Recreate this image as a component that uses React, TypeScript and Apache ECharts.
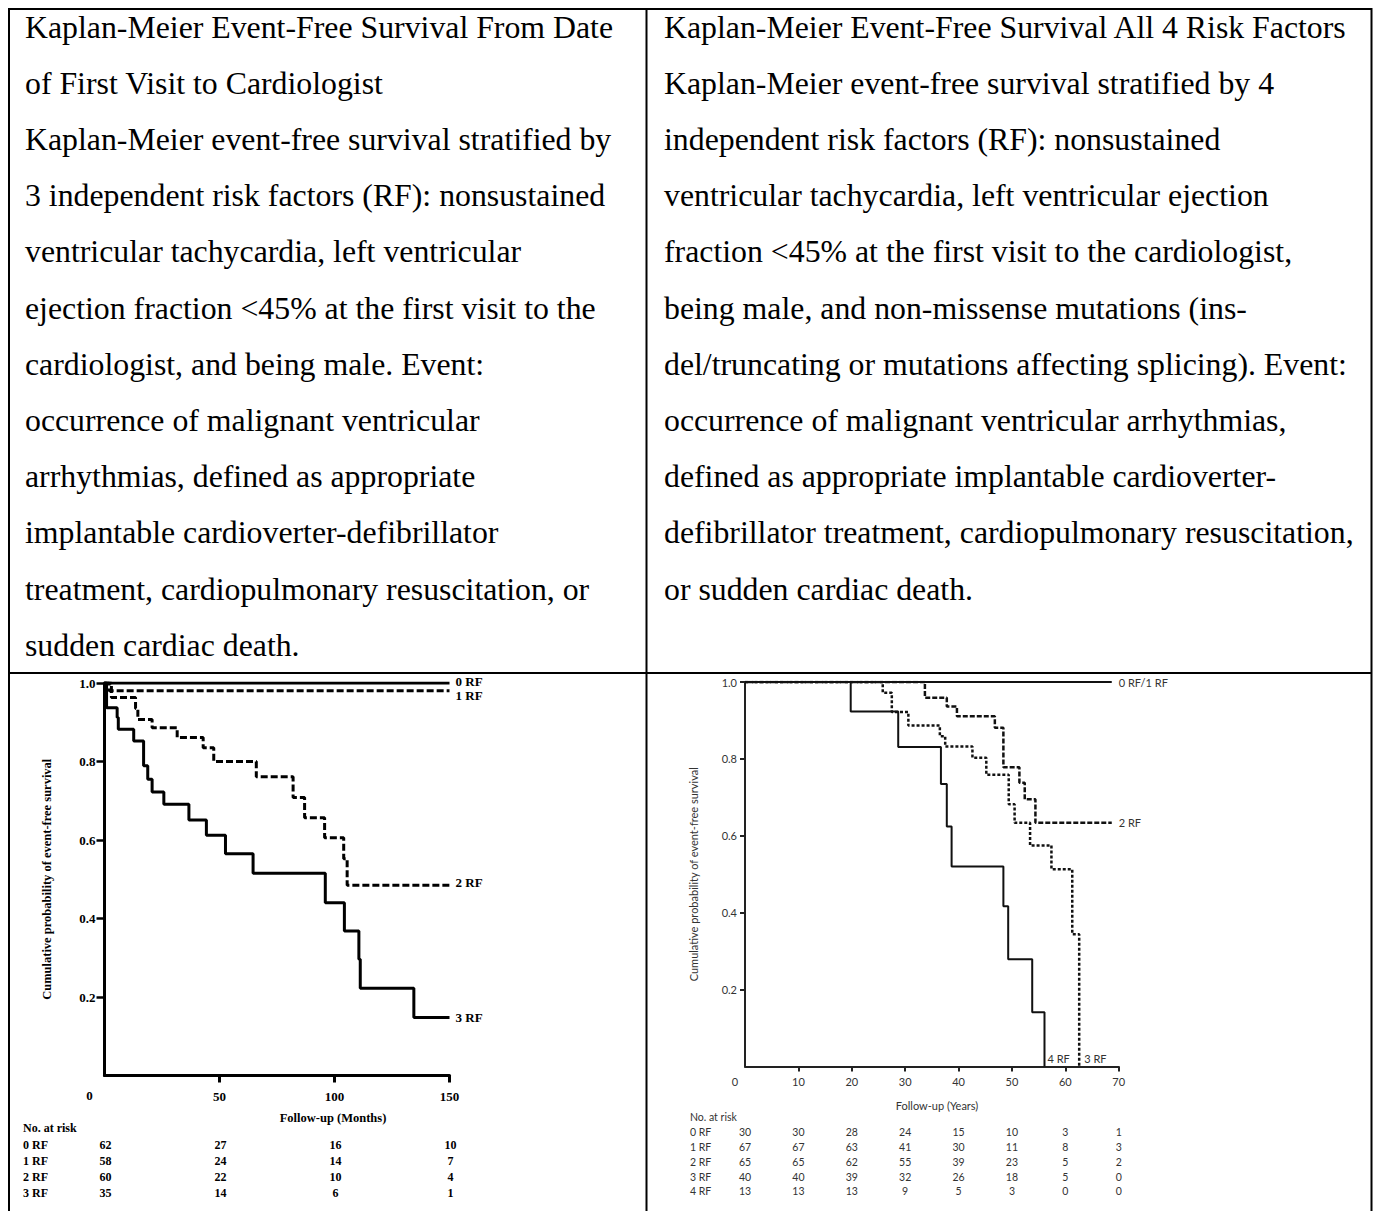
import React, { useEffect, useRef } from "react";
import * as echarts from "echarts";

// ---------- Caption text (table header cells) ----------
const leftCaption = [
  "Kaplan-Meier Event-Free Survival From Date",
  "of First Visit to Cardiologist",
  "Kaplan-Meier event-free survival stratified by",
  "3 independent risk factors (RF): nonsustained",
  "ventricular tachycardia, left ventricular",
  "ejection fraction <45% at the first visit to the",
  "cardiologist, and being male. Event:",
  "occurrence of malignant ventricular",
  "arrhythmias, defined as appropriate",
  "implantable cardioverter-defibrillator",
  "treatment, cardiopulmonary resuscitation, or",
  "sudden cardiac death.",
];
const rightCaption = [
  "Kaplan-Meier Event-Free Survival All 4 Risk Factors",
  "Kaplan-Meier event-free survival stratified by 4",
  "independent risk factors (RF): nonsustained",
  "ventricular tachycardia, left ventricular ejection",
  "fraction <45% at the first visit to the cardiologist,",
  "being male, and non-missense mutations (ins-",
  "del/truncating or mutations affecting splicing). Event:",
  "occurrence of malignant ventricular arrhythmias,",
  "defined as appropriate implantable cardioverter-",
  "defibrillator treatment, cardiopulmonary resuscitation,",
  "or sudden cardiac death.",
];

// ---------- Left chart: months ----------
const leftXTicks = [0, 50, 100, 150];
const leftT0 = [0, 150];
const leftS0 = [1, 1];
const leftT1 = [0, 2, 150];
const leftS1 = [1, 0.98, 0.98];
const leftT2 = [0, 3, 13.5, 14.5, 20.7, 31.6, 42.9, 47.5, 66, 82, 87, 95.7, 104, 105.5, 150];
const leftS2 = [1, 0.963, 0.935, 0.907, 0.886, 0.861, 0.835, 0.8, 0.761, 0.708, 0.657, 0.606, 0.552, 0.485, 0.485];
const leftT3 = [0, 0.9, 5.5, 6, 12.7, 17, 18.8, 20.7, 25.8, 36.7, 44.3, 52.6, 64.6, 96, 104.3, 110.6, 111.2, 134.5, 150];
const leftS3 = [1, 0.937, 0.912, 0.882, 0.852, 0.789, 0.755, 0.722, 0.691, 0.651, 0.612, 0.565, 0.515, 0.44, 0.368, 0.296, 0.222, 0.148, 0.148];
const leftRiskLabels = ["0 RF", "1 RF", "2 RF", "3 RF"];
const leftRisk0 = [62, 27, 16, 10];
const leftRisk1 = [58, 24, 14, 7];
const leftRisk2 = [60, 22, 10, 4];
const leftRisk3 = [35, 14, 6, 1];

// ---------- Right chart: years ----------
const rightXTicks = [0, 10, 20, 30, 40, 50, 60, 70];
const rightT01 = [0, 68.7];
const rightS01 = [1, 1];
const rightT2 = [0, 33.7, 37.8, 39.7, 46.8, 48.4, 51.4, 52.4, 54.4, 68.7];
const rightS2 = [1, 0.959, 0.936, 0.911, 0.881, 0.778, 0.738, 0.695, 0.634, 0.634];
const rightT3 = [0, 25.8, 27.5, 30.6, 36.5, 37.5, 42.6, 45.2, 49.4, 50.5, 53.4, 57.4, 61.3, 62.6];
const rightS3 = [1, 0.972, 0.922, 0.887, 0.859, 0.832, 0.803, 0.759, 0.682, 0.634, 0.575, 0.513, 0.344, 0];
const rightT4 = [0, 19.8, 28.7, 36.7, 37.8, 38.7, 48.4, 49.3, 53.8, 56.1];
const rightS4 = [1, 0.923, 0.831, 0.735, 0.624, 0.52, 0.417, 0.279, 0.141, 0];
const rightRiskLabels = ["0 RF", "1 RF", "2 RF", "3 RF", "4 RF"];
const rightRisk0 = [30, 30, 28, 24, 15, 10, 3, 1];
const rightRisk1 = [67, 67, 63, 41, 30, 11, 8, 3];
const rightRisk2 = [65, 65, 62, 55, 39, 23, 5, 2];
const rightRisk3 = [40, 40, 39, 32, 26, 18, 5, 0];
const rightRisk4 = [13, 13, 13, 9, 5, 3, 0, 0];

const SERIF = "'Liberation Serif', 'Times New Roman', serif";
const SANS = "Lato, 'Open Sans', sans-serif";

const zip = (t: number[], s: number[]) => t.map((v, i) => [v, s[i]]);

export default function App() {
  const ref = useRef<HTMLDivElement>(null);

  useEffect(() => {
    if (!ref.current) return;
    const chart = echarts.init(ref.current, null, { renderer: "svg" });

    const leftLabel = (text: string, dy: number) => ({
      show: true,
      formatter: text,
      distance: 6,
      offset: [0, dy],
      color: "#000",
      fontFamily: SERIF,
      fontWeight: "bold",
      fontSize: 13,
    });
    const rightLabel = (text: string, dx: number, dy: number) => ({
      show: true,
      formatter: text,
      distance: dx,
      offset: [0, dy],
      color: "#333",
      fontFamily: SANS,
      fontSize: 11,
    });

    const leftLine = (type: any, w = 3) => ({ color: "#000", width: w, type });
    const rightLine = (type: any, w = 2) => ({ color: "#111", width: w, type });

    const baseSeries = (name: string, data: number[][], grid: number, lineStyle: any, endLabel: any) => ({
      name,
      type: "line",
      xAxisIndex: grid,
      yAxisIndex: grid,
      data,
      step: "end",
      symbol: "none",
      lineStyle,
      endLabel,
      labelLayout: { hideOverlap: false },
      z: 3,
    });

    chart.setOption({
      animation: false,
      backgroundColor: "#fff",
      grid: [
        { left: 104.5, top: 683, width: 345, height: 392.5 },
        { left: 745, top: 682, width: 373.7, height: 384.5 },
      ],
      xAxis: [
        {
          type: "value",
          gridIndex: 0,
          min: 0,
          max: 150,
          interval: 50,
          splitLine: { show: false },
          axisLine: { lineStyle: { color: "#000", width: 3 } },
          axisTick: { length: 7, lineStyle: { color: "#000", width: 3 } },
          axisLabel: {
            showMinLabel: false,
            margin: 14,
            color: "#000",
            fontFamily: SERIF,
            fontWeight: "bold",
            fontSize: 13,
          },
        },
        {
          type: "value",
          gridIndex: 1,
          min: 0,
          max: 70,
          interval: 10,
          splitLine: { show: false },
          axisLine: { lineStyle: { color: "#222", width: 2 } },
          axisTick: { length: 5, lineStyle: { color: "#222", width: 2 } },
          axisLabel: {
            showMinLabel: false,
            margin: 9,
            color: "#333",
            fontFamily: SANS,
            fontSize: 11,
          },
        },
      ],
      yAxis: [
        {
          type: "value",
          gridIndex: 0,
          min: 0,
          max: 1,
          interval: 0.2,
          splitLine: { show: false },
          axisLine: { show: true, lineStyle: { color: "#000", width: 3 } },
          axisTick: { show: true, length: 8, lineStyle: { color: "#000", width: 2.5 } },
          axisLabel: {
            showMinLabel: false,
            margin: 9,
            formatter: (v: number) => v.toFixed(1),
            color: "#000",
            fontFamily: SERIF,
            fontWeight: "bold",
            fontSize: 13,
          },
          name: "Cumulative probability of event-free survival",
          nameLocation: "middle",
          nameRotate: 90,
          nameGap: 51,
          nameTextStyle: { color: "#000", fontFamily: SERIF, fontWeight: "bold", fontSize: 12.5 },
        },
        {
          type: "value",
          gridIndex: 1,
          min: 0,
          max: 1,
          interval: 0.2,
          splitLine: { show: false },
          axisLine: { show: true, lineStyle: { color: "#222", width: 2 } },
          axisTick: { show: true, length: 5, lineStyle: { color: "#222", width: 2 } },
          axisLabel: {
            showMinLabel: false,
            margin: 8,
            formatter: (v: number) => v.toFixed(1),
            color: "#333",
            fontFamily: SANS,
            fontSize: 11,
          },
          name: "Cumulative probability of event-free survival",
          nameLocation: "middle",
          nameRotate: 90,
          nameGap: 46,
          nameTextStyle: { color: "#333", fontFamily: SANS, fontSize: 11 },
        },
      ],
      series: [
        baseSeries("0 RF", zip(leftT0, leftS0), 0, leftLine("solid"), leftLabel("0 RF", -2)),
        baseSeries("1 RF", zip(leftT1, leftS1), 0, leftLine([7, 3]), leftLabel("1 RF", 5)),
        baseSeries("2 RF", zip(leftT2, leftS2), 0, leftLine([7, 3]), leftLabel("2 RF", -3)),
        baseSeries("3 RF", zip(leftT3, leftS3), 0, leftLine("solid"), leftLabel("3 RF", 0)),
        baseSeries("0 RF/1 RF", zip(rightT01, rightS01), 1, rightLine("solid"), rightLabel("0 RF/1 RF", 7, 0)),
        baseSeries("2 RF", zip(rightT2, rightS2), 1, rightLine([5, 2], 2.5), rightLabel("2 RF", 7, 0)),
        baseSeries("3 RF", zip(rightT3, rightS3), 1, rightLine([3, 2], 2.5), rightLabel("3 RF", 5, -8)),
        baseSeries("4 RF", zip(rightT4, rightS4), 1, rightLine("solid"), rightLabel("4 RF", 3, -8)),
      ],
    });

    // ---------- graphics: table borders, captions, risk tables ----------
    const g: any[] = [];
    const border = (x1: number, y1: number, x2: number, y2: number) =>
      g.push({ type: "line", shape: { x1, y1, x2, y2 }, style: { stroke: "#000", lineWidth: 2 }, z: 10 });
    border(9, 9, 1371.5, 9);
    border(9, 8, 9, 1211);
    border(646.5, 8, 646.5, 1211);
    border(1371.5, 8, 1371.5, 1211);
    border(8, 673, 1372, 673);

    const capFont = 31.8;
    const capBase = 38;
    const capStep = 56.2;
    const capLine = (text: string, x: number, i: number) =>
      g.push({
        type: "text",
        x,
        y: capBase + i * capStep - capFont * 0.34,
        style: { text, fontFamily: SERIF, fontSize: capFont, fill: "#000", align: "left", verticalAlign: "middle" },
      });
    leftCaption.forEach((t, i) => capLine(t, 25, i));
    rightCaption.forEach((t, i) => capLine(t, 664, i));

    const txt = (text: string, x: number, y: number, style: any) =>
      g.push({ type: "text", x, y, style: { text, verticalAlign: "middle", ...style } });

    const lStyle = { fontFamily: SERIF, fontWeight: "bold", fontSize: 12, fill: "#000" };
    const rStyle = { fontFamily: SANS, fontSize: 10.5, fill: "#333" };

    // "0" origin labels (offset from the skewed origin)
    const lo = chart.convertToPixel({ gridIndex: 0 }, [0, 0]) as number[];
    txt("0", lo[0] - 15, 1095, { ...lStyle, fontSize: 13, align: "center" });
    const ro = chart.convertToPixel({ gridIndex: 1 }, [0, 0]) as number[];
    txt("0", ro[0] - 10, 1081.5, { ...rStyle, fontSize: 11, align: "center" });

    // axis titles
    txt("Follow-up (Months)", 333, 1118, { ...lStyle, fontSize: 12.5, align: "center" });
    txt("Follow-up (Years)", 937, 1105, { ...rStyle, fontSize: 11, align: "center" });

    // left risk table
    const leftRows = [leftRisk0, leftRisk1, leftRisk2, leftRisk3];
    const leftRowY = [1145, 1161, 1177.3, 1193.3];
    txt("No. at risk", 23, 1128.3, { ...lStyle, align: "left" });
    leftRows.forEach((row, r) => {
      txt(leftRiskLabels[r], 23, leftRowY[r], { ...lStyle, align: "left" });
      row.forEach((v, c) => {
        const p = chart.convertToPixel({ gridIndex: 0 }, [leftXTicks[c], 0]) as number[];
        txt(String(v), p[0] + 1, leftRowY[r], { ...lStyle, align: "center" });
      });
    });

    // right risk table
    const rightRows = [rightRisk0, rightRisk1, rightRisk2, rightRisk3, rightRisk4];
    const rightRowY = [1131.7, 1146.7, 1161.7, 1176.7, 1191];
    txt("No. at risk", 690, 1116.7, { ...rStyle, align: "left" });
    rightRows.forEach((row, r) => {
      txt(rightRiskLabels[r], 690, rightRowY[r], { ...rStyle, align: "left" });
      row.forEach((v, c) => {
        const p = chart.convertToPixel({ gridIndex: 1 }, [rightXTicks[c], 0]) as number[];
        txt(String(v), p[0], rightRowY[r], { ...rStyle, align: "center" });
      });
    });

    chart.setOption({ graphic: g });

    return () => chart.dispose();
  }, []);

  return (
    <div
      ref={ref}
      style={{ position: "absolute", left: 0, top: 0, width: 1377, height: 1211, background: "#fff" }}
    />
  );
}
